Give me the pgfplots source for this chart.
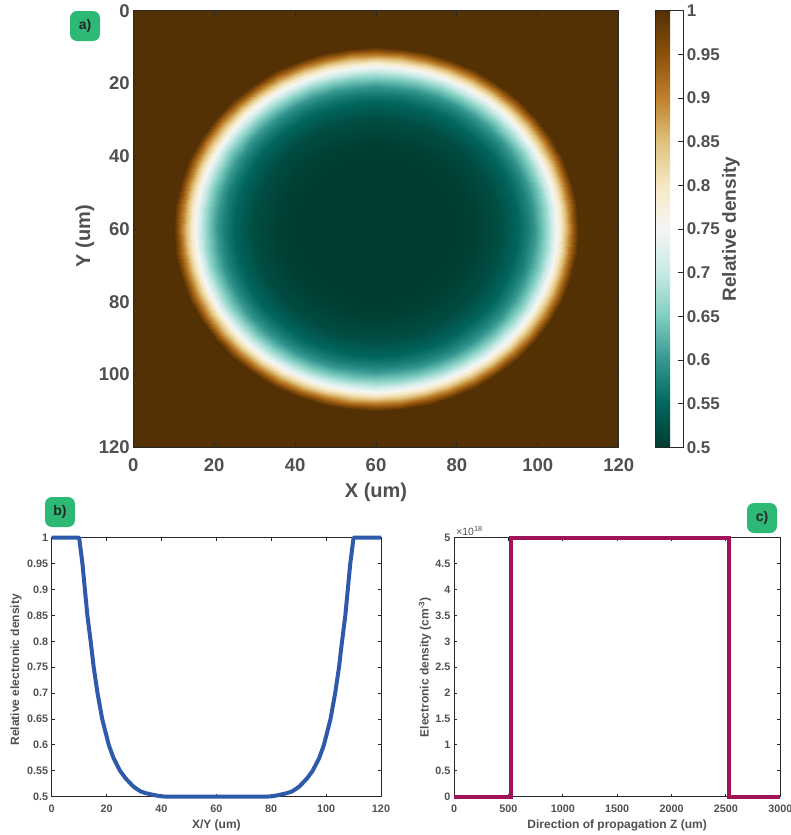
\documentclass[border=0pt]{standalone}
\usepackage{fontspec}
\setmainfont{Liberation Sans}
\usepackage{pgfplots}
\pgfplotsset{compat=1.18}

\definecolor{tickgray}{RGB}{80,80,80}
\definecolor{framec}{RGB}{40,40,40}
\definecolor{profblue}{RGB}{47,90,170}
\definecolor{stepmag}{RGB}{160,18,90}
\definecolor{taggreen}{RGB}{45,184,118}

\pgfplotsset{
  panel/.style={scale only axis, tick align=inside, tick pos=both,
    axis line style={framec, line width=0.9pt},
    tick style={framec, line width=0.9pt},
    /pgf/number format/assume math mode=true,
    /pgf/number format/1000 sep={}},
  small panel/.style={panel, major tick length=3pt, clip=false,
    ticklabel style={font=\fontsize{10.8}{12}\selectfont\bfseries, text=tickgray},
    label style={font=\fontsize{12}{14}\selectfont\bfseries, text=tickgray},
    xticklabel style={yshift=-4.5pt}},
}
\tikzset{tag/.style={fill=taggreen, rounded corners=7pt, minimum width=30pt,
  minimum height=30pt, inner sep=0pt, font=\fontsize{14}{14}\selectfont\bfseries,
  text=black!85}}

\begin{document}
\begin{tikzpicture}
\useasboundingbox (0,0) rectangle (790pt,-835pt);

% a) density map, radial profile on a polar grid (angle a, radius r, value v)
\begin{axis}[panel, at={(133.3pt,-447.3pt)}, anchor=south west,
  width=485.4pt, height=436.6pt, view={0}{90}, axis on top,
  xmin=0, xmax=120, ymin=0, ymax=120, y dir=reverse,
  xtick={0,20,...,120}, ytick={0,20,...,120}, major tick length=5pt,
  ticklabel style={font=\fontsize{18.5}{20}\selectfont\bfseries, text=tickgray},
  xticklabel style={yshift=-7.5pt},
  colormap={brbg}{rgb255=(0,60,48) rgb255=(1,102,94) rgb255=(53,151,143)
    rgb255=(128,205,193) rgb255=(199,234,229) rgb255=(245,245,245)
    rgb255=(246,232,195) rgb255=(223,194,125) rgb255=(191,129,45)
    rgb255=(140,81,10) rgb255=(84,48,5)},
  point meta min=0.5, point meta max=1,
  colorbar, colorbar style={at={(parent axis.north east)}, anchor=north west,
    xshift=28.6pt, scale only axis, width=27.4pt, height=436.6pt,
    ytick={0.5,0.55,0.6,0.65,0.7,0.75,0.8,0.85,0.9,0.95,1},
    ytick pos=right, yticklabel pos=right, tick align=inside, major tick length=5pt,
    axis line style={framec, line width=0.9pt}, tick style={framec, line width=0.9pt},
    yticklabel style={font=\fontsize{17}{18}\selectfont\bfseries, text=tickgray},
    /pgf/number format/assume math mode=true}]
\addplot3[surf, shader=interp] table[x expr={60+\thisrow{r}*cos(\thisrow{a})},
  y expr={60+\thisrow{r}*sin(\thisrow{a})}, z=v] {
a r v
0 0 .5
0 19 .5
0 24.2 .505
0 30.3 .52
0 35.1 .55
0 37.5 .575
0 39.2 .6
0 41.6 .65
0 43.3 .7
0 44.7 .75
0 45.8 .8
0 47.9 .9
0 50 1
0 86 1

7.5 0 .5
7.5 19 .5
7.5 24.2 .505
7.5 30.3 .52
7.5 35.1 .55
7.5 37.5 .575
7.5 39.2 .6
7.5 41.6 .65
7.5 43.3 .7
7.5 44.7 .75
7.5 45.8 .8
7.5 47.9 .9
7.5 50 1
7.5 86 1

15 0 .5
15 19 .5
15 24.2 .505
15 30.3 .52
15 35.1 .55
15 37.5 .575
15 39.2 .6
15 41.6 .65
15 43.3 .7
15 44.7 .75
15 45.8 .8
15 47.9 .9
15 50 1
15 86 1

22.5 0 .5
22.5 19 .5
22.5 24.2 .505
22.5 30.3 .52
22.5 35.1 .55
22.5 37.5 .575
22.5 39.2 .6
22.5 41.6 .65
22.5 43.3 .7
22.5 44.7 .75
22.5 45.8 .8
22.5 47.9 .9
22.5 50 1
22.5 86 1

30 0 .5
30 19 .5
30 24.2 .505
30 30.3 .52
30 35.1 .55
30 37.5 .575
30 39.2 .6
30 41.6 .65
30 43.3 .7
30 44.7 .75
30 45.8 .8
30 47.9 .9
30 50 1
30 86 1

37.5 0 .5
37.5 19 .5
37.5 24.2 .505
37.5 30.3 .52
37.5 35.1 .55
37.5 37.5 .575
37.5 39.2 .6
37.5 41.6 .65
37.5 43.3 .7
37.5 44.7 .75
37.5 45.8 .8
37.5 47.9 .9
37.5 50 1
37.5 86 1

45 0 .5
45 19 .5
45 24.2 .505
45 30.3 .52
45 35.1 .55
45 37.5 .575
45 39.2 .6
45 41.6 .65
45 43.3 .7
45 44.7 .75
45 45.8 .8
45 47.9 .9
45 50 1
45 86 1

52.5 0 .5
52.5 19 .5
52.5 24.2 .505
52.5 30.3 .52
52.5 35.1 .55
52.5 37.5 .575
52.5 39.2 .6
52.5 41.6 .65
52.5 43.3 .7
52.5 44.7 .75
52.5 45.8 .8
52.5 47.9 .9
52.5 50 1
52.5 86 1

60 0 .5
60 19 .5
60 24.2 .505
60 30.3 .52
60 35.1 .55
60 37.5 .575
60 39.2 .6
60 41.6 .65
60 43.3 .7
60 44.7 .75
60 45.8 .8
60 47.9 .9
60 50 1
60 86 1

67.5 0 .5
67.5 19 .5
67.5 24.2 .505
67.5 30.3 .52
67.5 35.1 .55
67.5 37.5 .575
67.5 39.2 .6
67.5 41.6 .65
67.5 43.3 .7
67.5 44.7 .75
67.5 45.8 .8
67.5 47.9 .9
67.5 50 1
67.5 86 1

75 0 .5
75 19 .5
75 24.2 .505
75 30.3 .52
75 35.1 .55
75 37.5 .575
75 39.2 .6
75 41.6 .65
75 43.3 .7
75 44.7 .75
75 45.8 .8
75 47.9 .9
75 50 1
75 86 1

82.5 0 .5
82.5 19 .5
82.5 24.2 .505
82.5 30.3 .52
82.5 35.1 .55
82.5 37.5 .575
82.5 39.2 .6
82.5 41.6 .65
82.5 43.3 .7
82.5 44.7 .75
82.5 45.8 .8
82.5 47.9 .9
82.5 50 1
82.5 86 1

90 0 .5
90 19 .5
90 24.2 .505
90 30.3 .52
90 35.1 .55
90 37.5 .575
90 39.2 .6
90 41.6 .65
90 43.3 .7
90 44.7 .75
90 45.8 .8
90 47.9 .9
90 50 1
90 86 1

97.5 0 .5
97.5 19 .5
97.5 24.2 .505
97.5 30.3 .52
97.5 35.1 .55
97.5 37.5 .575
97.5 39.2 .6
97.5 41.6 .65
97.5 43.3 .7
97.5 44.7 .75
97.5 45.8 .8
97.5 47.9 .9
97.5 50 1
97.5 86 1

105 0 .5
105 19 .5
105 24.2 .505
105 30.3 .52
105 35.1 .55
105 37.5 .575
105 39.2 .6
105 41.6 .65
105 43.3 .7
105 44.7 .75
105 45.8 .8
105 47.9 .9
105 50 1
105 86 1

112.5 0 .5
112.5 19 .5
112.5 24.2 .505
112.5 30.3 .52
112.5 35.1 .55
112.5 37.5 .575
112.5 39.2 .6
112.5 41.6 .65
112.5 43.3 .7
112.5 44.7 .75
112.5 45.8 .8
112.5 47.9 .9
112.5 50 1
112.5 86 1

120 0 .5
120 19 .5
120 24.2 .505
120 30.3 .52
120 35.1 .55
120 37.5 .575
120 39.2 .6
120 41.6 .65
120 43.3 .7
120 44.7 .75
120 45.8 .8
120 47.9 .9
120 50 1
120 86 1

127.5 0 .5
127.5 19 .5
127.5 24.2 .505
127.5 30.3 .52
127.5 35.1 .55
127.5 37.5 .575
127.5 39.2 .6
127.5 41.6 .65
127.5 43.3 .7
127.5 44.7 .75
127.5 45.8 .8
127.5 47.9 .9
127.5 50 1
127.5 86 1

135 0 .5
135 19 .5
135 24.2 .505
135 30.3 .52
135 35.1 .55
135 37.5 .575
135 39.2 .6
135 41.6 .65
135 43.3 .7
135 44.7 .75
135 45.8 .8
135 47.9 .9
135 50 1
135 86 1

142.5 0 .5
142.5 19 .5
142.5 24.2 .505
142.5 30.3 .52
142.5 35.1 .55
142.5 37.5 .575
142.5 39.2 .6
142.5 41.6 .65
142.5 43.3 .7
142.5 44.7 .75
142.5 45.8 .8
142.5 47.9 .9
142.5 50 1
142.5 86 1

150 0 .5
150 19 .5
150 24.2 .505
150 30.3 .52
150 35.1 .55
150 37.5 .575
150 39.2 .6
150 41.6 .65
150 43.3 .7
150 44.7 .75
150 45.8 .8
150 47.9 .9
150 50 1
150 86 1

157.5 0 .5
157.5 19 .5
157.5 24.2 .505
157.5 30.3 .52
157.5 35.1 .55
157.5 37.5 .575
157.5 39.2 .6
157.5 41.6 .65
157.5 43.3 .7
157.5 44.7 .75
157.5 45.8 .8
157.5 47.9 .9
157.5 50 1
157.5 86 1

165 0 .5
165 19 .5
165 24.2 .505
165 30.3 .52
165 35.1 .55
165 37.5 .575
165 39.2 .6
165 41.6 .65
165 43.3 .7
165 44.7 .75
165 45.8 .8
165 47.9 .9
165 50 1
165 86 1

172.5 0 .5
172.5 19 .5
172.5 24.2 .505
172.5 30.3 .52
172.5 35.1 .55
172.5 37.5 .575
172.5 39.2 .6
172.5 41.6 .65
172.5 43.3 .7
172.5 44.7 .75
172.5 45.8 .8
172.5 47.9 .9
172.5 50 1
172.5 86 1

180 0 .5
180 19 .5
180 24.2 .505
180 30.3 .52
180 35.1 .55
180 37.5 .575
180 39.2 .6
180 41.6 .65
180 43.3 .7
180 44.7 .75
180 45.8 .8
180 47.9 .9
180 50 1
180 86 1

187.5 0 .5
187.5 19 .5
187.5 24.2 .505
187.5 30.3 .52
187.5 35.1 .55
187.5 37.5 .575
187.5 39.2 .6
187.5 41.6 .65
187.5 43.3 .7
187.5 44.7 .75
187.5 45.8 .8
187.5 47.9 .9
187.5 50 1
187.5 86 1

195 0 .5
195 19 .5
195 24.2 .505
195 30.3 .52
195 35.1 .55
195 37.5 .575
195 39.2 .6
195 41.6 .65
195 43.3 .7
195 44.7 .75
195 45.8 .8
195 47.9 .9
195 50 1
195 86 1

202.5 0 .5
202.5 19 .5
202.5 24.2 .505
202.5 30.3 .52
202.5 35.1 .55
202.5 37.5 .575
202.5 39.2 .6
202.5 41.6 .65
202.5 43.3 .7
202.5 44.7 .75
202.5 45.8 .8
202.5 47.9 .9
202.5 50 1
202.5 86 1

210 0 .5
210 19 .5
210 24.2 .505
210 30.3 .52
210 35.1 .55
210 37.5 .575
210 39.2 .6
210 41.6 .65
210 43.3 .7
210 44.7 .75
210 45.8 .8
210 47.9 .9
210 50 1
210 86 1

217.5 0 .5
217.5 19 .5
217.5 24.2 .505
217.5 30.3 .52
217.5 35.1 .55
217.5 37.5 .575
217.5 39.2 .6
217.5 41.6 .65
217.5 43.3 .7
217.5 44.7 .75
217.5 45.8 .8
217.5 47.9 .9
217.5 50 1
217.5 86 1

225 0 .5
225 19 .5
225 24.2 .505
225 30.3 .52
225 35.1 .55
225 37.5 .575
225 39.2 .6
225 41.6 .65
225 43.3 .7
225 44.7 .75
225 45.8 .8
225 47.9 .9
225 50 1
225 86 1

232.5 0 .5
232.5 19 .5
232.5 24.2 .505
232.5 30.3 .52
232.5 35.1 .55
232.5 37.5 .575
232.5 39.2 .6
232.5 41.6 .65
232.5 43.3 .7
232.5 44.7 .75
232.5 45.8 .8
232.5 47.9 .9
232.5 50 1
232.5 86 1

240 0 .5
240 19 .5
240 24.2 .505
240 30.3 .52
240 35.1 .55
240 37.5 .575
240 39.2 .6
240 41.6 .65
240 43.3 .7
240 44.7 .75
240 45.8 .8
240 47.9 .9
240 50 1
240 86 1

247.5 0 .5
247.5 19 .5
247.5 24.2 .505
247.5 30.3 .52
247.5 35.1 .55
247.5 37.5 .575
247.5 39.2 .6
247.5 41.6 .65
247.5 43.3 .7
247.5 44.7 .75
247.5 45.8 .8
247.5 47.9 .9
247.5 50 1
247.5 86 1

255 0 .5
255 19 .5
255 24.2 .505
255 30.3 .52
255 35.1 .55
255 37.5 .575
255 39.2 .6
255 41.6 .65
255 43.3 .7
255 44.7 .75
255 45.8 .8
255 47.9 .9
255 50 1
255 86 1

262.5 0 .5
262.5 19 .5
262.5 24.2 .505
262.5 30.3 .52
262.5 35.1 .55
262.5 37.5 .575
262.5 39.2 .6
262.5 41.6 .65
262.5 43.3 .7
262.5 44.7 .75
262.5 45.8 .8
262.5 47.9 .9
262.5 50 1
262.5 86 1

270 0 .5
270 19 .5
270 24.2 .505
270 30.3 .52
270 35.1 .55
270 37.5 .575
270 39.2 .6
270 41.6 .65
270 43.3 .7
270 44.7 .75
270 45.8 .8
270 47.9 .9
270 50 1
270 86 1

277.5 0 .5
277.5 19 .5
277.5 24.2 .505
277.5 30.3 .52
277.5 35.1 .55
277.5 37.5 .575
277.5 39.2 .6
277.5 41.6 .65
277.5 43.3 .7
277.5 44.7 .75
277.5 45.8 .8
277.5 47.9 .9
277.5 50 1
277.5 86 1

285 0 .5
285 19 .5
285 24.2 .505
285 30.3 .52
285 35.1 .55
285 37.5 .575
285 39.2 .6
285 41.6 .65
285 43.3 .7
285 44.7 .75
285 45.8 .8
285 47.9 .9
285 50 1
285 86 1

292.5 0 .5
292.5 19 .5
292.5 24.2 .505
292.5 30.3 .52
292.5 35.1 .55
292.5 37.5 .575
292.5 39.2 .6
292.5 41.6 .65
292.5 43.3 .7
292.5 44.7 .75
292.5 45.8 .8
292.5 47.9 .9
292.5 50 1
292.5 86 1

300 0 .5
300 19 .5
300 24.2 .505
300 30.3 .52
300 35.1 .55
300 37.5 .575
300 39.2 .6
300 41.6 .65
300 43.3 .7
300 44.7 .75
300 45.8 .8
300 47.9 .9
300 50 1
300 86 1

307.5 0 .5
307.5 19 .5
307.5 24.2 .505
307.5 30.3 .52
307.5 35.1 .55
307.5 37.5 .575
307.5 39.2 .6
307.5 41.6 .65
307.5 43.3 .7
307.5 44.7 .75
307.5 45.8 .8
307.5 47.9 .9
307.5 50 1
307.5 86 1

315 0 .5
315 19 .5
315 24.2 .505
315 30.3 .52
315 35.1 .55
315 37.5 .575
315 39.2 .6
315 41.6 .65
315 43.3 .7
315 44.7 .75
315 45.8 .8
315 47.9 .9
315 50 1
315 86 1

322.5 0 .5
322.5 19 .5
322.5 24.2 .505
322.5 30.3 .52
322.5 35.1 .55
322.5 37.5 .575
322.5 39.2 .6
322.5 41.6 .65
322.5 43.3 .7
322.5 44.7 .75
322.5 45.8 .8
322.5 47.9 .9
322.5 50 1
322.5 86 1

330 0 .5
330 19 .5
330 24.2 .505
330 30.3 .52
330 35.1 .55
330 37.5 .575
330 39.2 .6
330 41.6 .65
330 43.3 .7
330 44.7 .75
330 45.8 .8
330 47.9 .9
330 50 1
330 86 1

337.5 0 .5
337.5 19 .5
337.5 24.2 .505
337.5 30.3 .52
337.5 35.1 .55
337.5 37.5 .575
337.5 39.2 .6
337.5 41.6 .65
337.5 43.3 .7
337.5 44.7 .75
337.5 45.8 .8
337.5 47.9 .9
337.5 50 1
337.5 86 1

345 0 .5
345 19 .5
345 24.2 .505
345 30.3 .52
345 35.1 .55
345 37.5 .575
345 39.2 .6
345 41.6 .65
345 43.3 .7
345 44.7 .75
345 45.8 .8
345 47.9 .9
345 50 1
345 86 1

352.5 0 .5
352.5 19 .5
352.5 24.2 .505
352.5 30.3 .52
352.5 35.1 .55
352.5 37.5 .575
352.5 39.2 .6
352.5 41.6 .65
352.5 43.3 .7
352.5 44.7 .75
352.5 45.8 .8
352.5 47.9 .9
352.5 50 1
352.5 86 1

360 0 .5
360 19 .5
360 24.2 .505
360 30.3 .52
360 35.1 .55
360 37.5 .575
360 39.2 .6
360 41.6 .65
360 43.3 .7
360 44.7 .75
360 45.8 .8
360 47.9 .9
360 50 1
360 86 1
};
\end{axis}
\node[font=\fontsize{20}{22}\selectfont\bfseries, text=tickgray] at (376pt,-492pt) {X (um)};
\node[rotate=90, font=\fontsize{20}{22}\selectfont\bfseries, text=tickgray] at (85pt,-236pt) {Y (um)};
\node[rotate=90, font=\fontsize{19}{22}\selectfont\bfseries, text=tickgray] at (731pt,-229pt) {Relative density};

% b) relative profile across X/Y
\begin{axis}[small panel, at={(51.7pt,-796.7pt)}, anchor=south west,
  width=329.3pt, height=259pt, xmin=0, xmax=120, ymin=0.5, ymax=1,
  xtick={0,20,...,120}, ytick={0.5,0.55,0.6,0.65,0.7,0.75,0.8,0.85,0.9,0.95,1},
  xlabel={X/Y (um)}, ylabel={Relative electronic density},
  xlabel style={at={(axis description cs:0.5,-0.109)}, anchor=center},
  ylabel style={at={(axis description cs:-0.108,0.49)}, anchor=center}]
\addplot[profblue, line width=4pt, line join=round] table {
x v
0 1
10 1
11.2 0.95
12.1 0.9
13 0.85
14.2 0.8
15.3 0.75
16.7 0.7
18.4 0.65
20.8 0.6
22.5 0.575
24.9 0.55
27 0.535
29.7 0.52
31 0.515
32.5 0.51
34.2 0.507
35.8 0.505
37.5 0.503
39.5 0.501
42 0.5
78 0.5
80.5 0.501
82.5 0.503
84.2 0.505
85.8 0.507
87.5 0.51
89 0.515
90.3 0.52
93 0.535
95.1 0.55
97.5 0.575
99.2 0.6
101.6 0.65
103.3 0.7
104.7 0.75
105.8 0.8
107 0.85
107.9 0.9
108.8 0.95
110 1
120 1
};
\end{axis}

% c) density along propagation
\begin{axis}[small panel, at={(454pt,-796.7pt)}, anchor=south west,
  width=326.3pt, height=259pt, xmin=0, xmax=3000, ymin=0, ymax=5e18,
  xtick={0,500,...,3000}, scaled x ticks=false,
  ytick={0,5e17,1e18,1.5e18,2e18,2.5e18,3e18,3.5e18,4e18,4.5e18,5e18},
  scaled y ticks=base 10:-18,
  ytick scale label code/.code={×10\textsuperscript{18}},
  every y tick scale label/.style={at={(rel axis cs:0,1)}, anchor=south west,
    inner sep=0pt, xshift=2pt, yshift=2pt, font=\fontsize{10.5}{11}\selectfont, text=tickgray},
  xlabel={Direction of propagation Z (um)},
  ylabel={Electronic density (cm\textsuperscript{-3})},
  xlabel style={at={(axis description cs:0.5,-0.109)}, anchor=center},
  ylabel style={at={(axis description cs:-0.089,0.5)}, anchor=center}]
\addplot[stepmag, line width=3.8pt, line join=miter] coordinates {
(0,0) (525,0) (525,5e18) (2530,5e18) (2530,0) (3000,0)};
\end{axis}

\node[tag] at (85pt,-26pt) {a)};
\node[tag] at (60pt,-512pt) {b)};
\node[tag] at (762pt,-518pt) {c)};
\end{tikzpicture}
\end{document}
